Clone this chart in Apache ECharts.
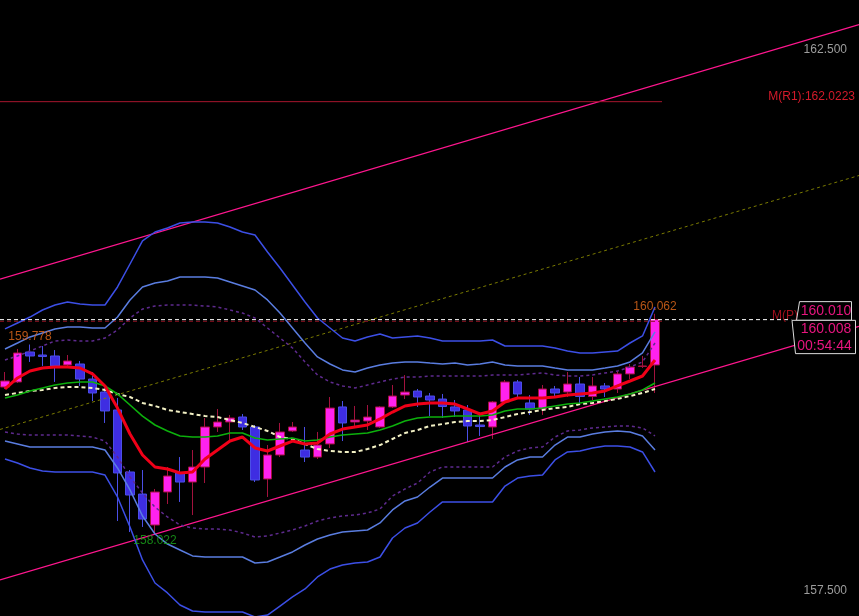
<!DOCTYPE html>
<html>
<head>
<meta charset="utf-8">
<script src="https://cdn.jsdelivr.net/npm/echarts@6/dist/echarts.min.js"></script>
<style>
html,body{margin:0;padding:0;background:#000;overflow:hidden;}
#c{width:859px;height:616px;}
</style>
</head>
<body>
<div id="c"></div>
<script>
// ---- candle data (index = bar number) ----
const opens = [159.385,159.432,159.709,159.681,159.672,159.589,159.598,159.459,159.339,159.173,158.600,158.396,158.110,158.415,158.591,158.507,158.646,159.016,159.062,159.108,159.016,158.535,158.757,158.979,158.803,158.738,158.859,159.201,159.062,159.071,159.016,159.201,159.311,159.348,159.302,159.274,159.201,159.173,159.034,159.016,159.247,159.432,159.238,159.182,159.367,159.339,159.413,159.298,159.395,159.367,159.506,159.575,159.589];
const closes = [159.441,159.700,159.672,159.667,159.580,159.626,159.459,159.330,159.164,158.591,158.387,158.165,158.415,158.563,158.507,158.646,159.016,159.062,159.099,159.016,158.526,158.757,158.970,159.016,158.738,158.849,159.191,159.053,159.080,159.108,159.201,159.302,159.339,159.293,159.265,159.205,159.164,159.025,159.020,159.247,159.432,159.321,159.182,159.367,159.330,159.413,159.298,159.395,159.367,159.506,159.570,159.580,160.008];
const lows = [159.367,159.422,159.617,159.580,159.432,159.570,159.395,159.256,159.053,158.147,158.045,158.092,158.022,158.304,158.323,158.202,158.498,158.970,158.868,158.988,158.507,158.369,158.738,158.970,158.692,158.720,158.822,158.886,159.016,158.988,159.006,159.191,159.274,159.201,159.117,159.099,159.108,158.877,158.933,158.905,159.238,159.284,159.127,159.127,159.293,159.293,159.238,159.265,159.293,159.330,159.459,159.561,159.330];
const highs = [159.524,159.737,159.778,159.764,159.727,159.681,159.626,159.524,159.376,159.284,158.618,158.618,158.443,158.646,158.738,158.803,159.099,159.182,159.127,159.136,159.034,158.849,159.053,159.062,159.016,158.970,159.293,159.256,159.210,159.219,159.210,159.404,159.496,159.367,159.330,159.321,159.265,159.219,159.154,159.256,159.450,159.450,159.311,159.404,159.395,159.524,159.478,159.478,159.422,159.533,159.598,159.672,160.062];

// ---- indicator lines (read per bar) ----
const maFast = [159.367,159.469,159.533,159.561,159.570,159.570,159.561,159.506,159.395,159.191,158.951,158.757,158.646,158.628,158.591,158.600,158.720,158.803,158.886,158.923,158.822,158.794,158.840,158.886,158.859,158.868,158.951,158.997,159.016,159.034,159.090,159.154,159.210,159.228,159.238,159.238,159.228,159.182,159.136,159.164,159.247,159.284,159.284,159.284,159.293,159.312,159.321,159.330,159.349,159.395,159.441,159.487,159.635];
const maMid = [159.284,159.312,159.349,159.376,159.404,159.422,159.432,159.432,159.395,159.321,159.219,159.117,159.034,158.979,158.933,158.923,158.923,158.933,158.960,158.960,158.914,158.896,158.905,158.914,158.886,158.896,158.923,158.942,158.951,158.960,158.988,159.025,159.071,159.099,159.108,159.108,159.117,159.117,159.117,159.127,159.164,159.182,159.182,159.191,159.210,159.228,159.238,159.256,159.275,159.293,159.321,159.358,159.422];
const maSlow = [159.312,159.330,159.349,159.358,159.376,159.385,159.385,159.376,159.358,159.321,159.293,159.238,159.210,159.173,159.154,159.136,159.117,159.108,159.080,159.053,159.016,158.979,158.923,158.905,158.859,158.812,158.794,158.785,158.785,158.812,158.849,158.905,158.960,158.988,159.025,159.043,159.062,159.071,159.071,159.080,159.108,159.136,159.154,159.173,159.191,159.201,159.228,159.238,159.256,159.275,159.302,159.330,159.367];
const bbInnerUp = [159.635,159.672,159.718,159.764,159.811,159.820,159.811,159.811,159.838,159.912,160.023,160.106,160.134,160.143,160.143,160.143,160.134,160.125,160.097,160.069,160.023,159.931,159.838,159.746,159.617,159.496,159.432,159.395,159.376,159.404,159.432,159.459,159.478,159.478,159.487,159.487,159.487,159.487,159.487,159.496,159.496,159.496,159.506,159.515,159.496,159.487,159.487,159.496,159.515,159.533,159.570,159.617,159.792];
const bbInnerLo = [158.970,158.951,158.942,158.942,158.942,158.942,158.933,158.923,158.886,158.739,158.554,158.406,158.276,158.184,158.110,158.082,158.073,158.073,158.064,158.036,157.999,158.008,158.036,158.064,158.101,158.147,158.175,158.193,158.203,158.221,158.258,158.378,158.443,158.498,158.600,158.646,158.646,158.646,158.646,158.646,158.739,158.794,158.822,158.831,158.923,158.979,158.988,159.007,159.016,159.025,159.025,159.007,158.933];
const bbMidUp = [159.737,159.792,159.848,159.885,159.922,159.940,159.940,159.931,159.931,160.032,160.190,160.310,160.347,160.365,160.402,160.402,160.402,160.393,160.356,160.319,160.282,160.190,160.069,159.931,159.792,159.663,159.598,159.543,159.524,159.561,159.589,159.607,159.617,159.617,159.607,159.598,159.607,159.589,159.598,159.617,159.589,159.580,159.580,159.580,159.561,159.543,159.543,159.543,159.561,159.580,159.617,159.700,159.894];
const bbMidLo = [158.886,158.859,158.831,158.831,158.831,158.831,158.831,158.831,158.803,158.637,158.434,158.193,158.027,157.934,157.879,157.824,157.814,157.814,157.814,157.814,157.759,157.768,157.814,157.861,157.925,157.981,158.018,158.045,158.055,158.064,158.129,158.249,158.332,158.369,158.461,158.544,158.544,158.544,158.544,158.544,158.646,158.711,158.739,158.739,158.849,158.923,158.923,158.951,158.970,158.979,158.970,158.933,158.803];
const bbOuterUp = [159.922,159.977,160.032,160.097,160.143,160.171,160.153,160.143,160.143,160.310,160.522,160.735,160.818,160.855,160.901,160.910,160.910,160.901,160.864,160.818,160.790,160.633,160.485,160.328,160.171,160.023,159.931,159.838,159.811,159.848,159.875,159.838,159.848,159.857,159.838,159.811,159.811,159.811,159.811,159.820,159.764,159.764,159.764,159.764,159.746,159.718,159.700,159.700,159.709,159.718,159.792,159.857,160.125];
const bbOuterLo = [158.720,158.683,158.637,158.609,158.600,158.600,158.600,158.600,158.572,158.369,158.092,157.787,157.574,157.482,157.371,157.315,157.306,157.306,157.306,157.306,157.260,157.278,157.361,157.445,157.519,157.630,157.703,157.740,157.759,157.768,157.814,157.990,158.082,158.129,158.230,158.323,158.323,158.323,158.323,158.323,158.470,158.544,158.563,158.572,158.711,158.785,158.794,158.822,158.840,158.840,158.831,158.785,158.600];

// ---- channel (two end points in bar units / price) ----
const channelX = [-0.4, 68.32];
const channelUpper = [160.382, 162.735];
const channelMid = [158.993, 161.340];
const channelLower = [157.602, 159.945];

// ---- levels and labels ----
const pivotR1 = 162.0223;
const pivotP = 159.9925;
const pivotEndX = 52.56;
const bidPrice = 160.008;
const askPrice = 160.010;
const bidLineEndX = 62.9;
const timerText = '00:54:44';
const yTicks = [157.5, 162.5];
const highMarks = [[2, 159.778], [52, 160.062]];
const lowMarks = [[12, 158.022]];

const xMin = -0.4, xMax = 68.32;
const yMin = 157.269, yMax = 162.962;

const FONT = '"Liberation Sans", Arial, sans-serif';
const chart = echarts.init(document.getElementById('c'));

function lineS(arr, color, width, type, z) {
  return {
    type: 'line', data: arr.map((v, i) => [i, v]), symbol: 'none', showSymbol: false,
    lineStyle: { color: color, width: width, type: type || 'solid' }, z: z, silent: true, smooth: false
  };
}
function segS(xs, ys, color, width, type, z) {
  return {
    type: 'line', data: xs.map((x, k) => [x, ys[k]]), symbol: 'none', showSymbol: false,
    lineStyle: { color: color, width: width, type: type || 'solid' }, z: z, silent: true
  };
}

const candles = opens.map((o, i) => [i, o, closes[i], lows[i], highs[i]]);

const option = {
  backgroundColor: '#000000',
  animation: false,
  grid: { left: 0, right: 0, top: 0, bottom: 0, containLabel: false },
  xAxis: { type: 'value', min: xMin, max: xMax, show: false },
  yAxis: {
    type: 'value', min: yMin, max: yMax, position: 'right',
    splitLine: { show: false }, axisLine: { show: false }, axisTick: { show: false },
    axisLabel: {
      inside: true, margin: 12, color: '#9c9c9c', fontSize: 12, fontFamily: FONT,
      customValues: yTicks, formatter: v => v.toFixed(3)
    }
  },
  series: [
    {
      type: 'candlestick', data: candles, barWidth: 9, z: 2,
      itemStyle: { color: '#ff22ee', color0: '#3e2de2', borderColor: '#a3123e', borderColor0: '#4b4fe6', borderWidth: 1 }
    },
    segS(channelX, channelMid, '#7a7a00', 1, [3, 3], 3),
    segS(channelX, channelUpper, '#ff168e', 1.2, 'solid', 3),
    segS(channelX, channelLower, '#ff168e', 1.2, 'solid', 3),
    segS([xMin, pivotEndX], [pivotR1, pivotR1], '#a8162e', 1, 'solid', 3),
    segS([xMin, pivotEndX], [pivotP, pivotP], '#8c1020', 1, [4, 3], 3),
    segS([xMin, bidLineEndX], [bidPrice, bidPrice], '#ffffff', 1, [4, 3], 4),
    lineS(bbOuterUp, '#3c4fe6', 1.5, 'solid', 3),
    lineS(bbOuterLo, '#3c4fe6', 1.5, 'solid', 3),
    lineS(bbMidUp, '#5a7de0', 1.5, 'solid', 3),
    lineS(bbMidLo, '#5a7de0', 1.5, 'solid', 3),
    lineS(bbInnerUp, '#5e2a8e', 1.5, [3, 3], 3),
    lineS(bbInnerLo, '#5e2a8e', 1.5, [3, 3], 3),
    lineS(maSlow, '#f2f0c4', 2, [4, 3], 4),
    lineS(maMid, '#0cb00c', 1.6, 'solid', 4),
    lineS(maFast, '#f00018', 3, 'solid', 5),
    {
      type: 'scatter', data: highMarks, symbolSize: 1, itemStyle: { color: 'rgba(0,0,0,0)' }, z: 6, silent: true,
      label: { show: true, position: 'top', distance: 1, formatter: p => p.value[1].toFixed(3), color: '#e46a1c', fontSize: 12, fontFamily: FONT }
    },
    {
      type: 'scatter', data: lowMarks, symbolSize: 1, itemStyle: { color: 'rgba(0,0,0,0)' }, z: 6, silent: true,
      label: { show: true, position: 'bottom', distance: 0, formatter: p => p.value[1].toFixed(3), color: '#1aa61a', fontSize: 12, fontFamily: FONT }
    }
  ]
};
chart.setOption(option);

const toPx = (x, y) => chart.convertToPixel({ gridIndex: 0 }, [x, y]);
const yR1 = toPx(0, pivotR1)[1];
const yP = toPx(0, pivotP)[1];
const yB = toPx(0, bidPrice)[1];

function txt(t, x, y, color, size, align, valign) {
  return {
    type: 'text', z: 100, silent: true,
    style: { text: t, x: x, y: y, fill: color, font: size + 'px ' + FONT, fontSize: size, fontFamily: FONT,
      align: align, textAlign: align, verticalAlign: valign, textVerticalAlign: valign }
  };
}
chart.setOption({
  graphic: [
    txt('M(R1):' + pivotR1.toFixed(4), 855, yR1 + 1, '#d41a2a', 12, 'right', 'bottom'),
    txt('M(P):' + pivotP.toFixed(4), 772, yP, '#a0101e', 12, 'left', 'bottom'),
    {
      type: 'polygon', z: 101, silent: true,
      shape: { points: [[799.5, yB - 18], [851.5, yB - 18], [851.5, yB + 0.7], [796.5, yB + 0.7]] },
      style: { fill: '#000', stroke: '#dcdcdc', lineWidth: 1 }
    },
    {
      type: 'polygon', z: 101, silent: true,
      shape: { points: [[792, yB + 0.7], [855.5, yB + 0.7], [855.5, yB + 34], [795.5, yB + 34]] },
      style: { fill: '#000', stroke: '#dcdcdc', lineWidth: 1 }
    },
    Object.assign(txt(askPrice.toFixed(3), 826, yB - 8.5, '#e8157f', 14, 'center', 'middle'), { z: 102 }),
    Object.assign(txt(bidPrice.toFixed(3), 826, yB + 9.5, '#e8157f', 14, 'center', 'middle'), { z: 102 }),
    Object.assign(txt(timerText, 824.5, yB + 26.5, '#e8157f', 14, 'center', 'middle'), { z: 102 })
  ]
});
</script>
</body>
</html>
